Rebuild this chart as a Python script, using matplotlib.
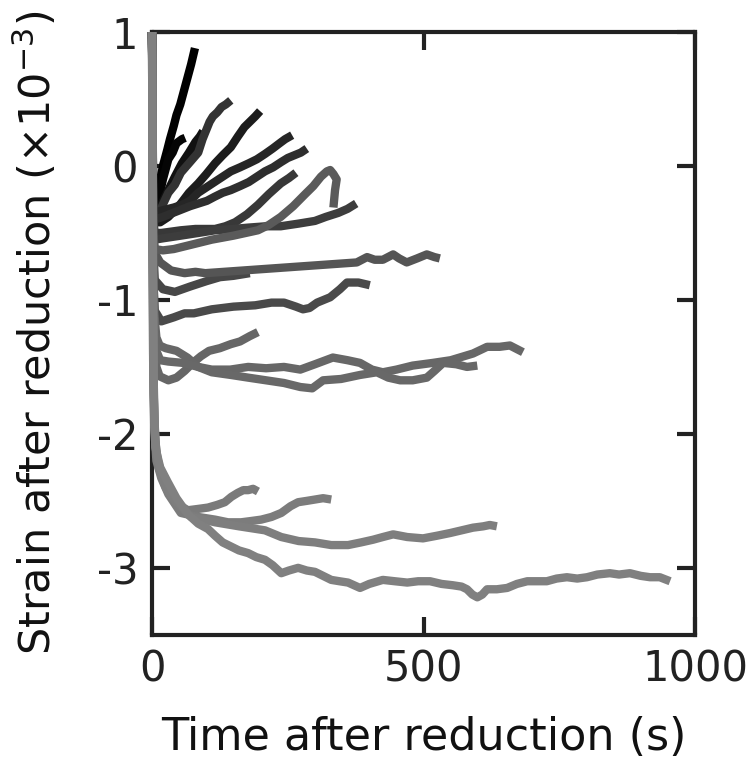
import matplotlib
matplotlib.use("Agg")
import matplotlib.pyplot as plt

plt.rcParams['font.family'] = ['DejaVu Sans']
plt.rcParams['axes.unicode_minus'] = False

# Each series: (time s, strain x1e-3)
k1 = [(0,1.0),(1,0.2),(2,-0.2),(4,-0.3),(10,-0.22),(20,0.0),(28,0.12),(33,0.2),(40,0.3),(45,0.38),(52,0.46),(58,0.55),(64,0.64),(72,0.76),(79,0.88)]
k1b = [(0,1.0),(2,-0.2),(4,-0.35),(12,-0.25),(20,-0.1),(30,0.05),(38,0.1),(45,0.17),(55,0.2),(61,0.21)]
k2 = [(0,1.0),(2,-0.3),(4,-0.4),(10,-0.38),(18,-0.28),(30,-0.18),(42,-0.08),(55,0.02),(68,0.1),(80,0.18),(88,0.22),(94,0.26)]
k3 = [(0,1.0),(2,-0.3),(4,-0.38),(15,-0.33),(30,-0.2),(42,-0.14),(53,-0.05),(68,0.02),(85,0.1),(93,0.2),(100,0.27),(106,0.33),(112,0.37),(120,0.4),(128,0.44),(136,0.46),(145,0.49)]
k4 = [(0,1.0),(2,-0.35),(4,-0.42),(15,-0.42),(30,-0.38),(42,-0.33),(53,-0.28),(68,-0.2),(85,-0.13),(100,-0.06),(116,0.02),(130,0.08),(145,0.14),(158,0.22),(170,0.29),(180,0.33),(190,0.37),(199,0.41)]
k5 = [(0,1.0),(2,-0.3),(4,-0.35),(20,-0.33),(40,-0.31),(55,-0.29),(70,-0.26),(85,-0.2),(100,-0.16),(115,-0.12),(130,-0.08),(145,-0.04),(162,-0.01),(178,0.02),(193,0.05),(208,0.09),(222,0.13),(235,0.17),(245,0.2),(258,0.23)]
k6 = [(0,1.0),(2,-0.35),(4,-0.4),(20,-0.38),(45,-0.34),(70,-0.3),(101,-0.26),(115,-0.23),(130,-0.2),(145,-0.18),(162,-0.15),(178,-0.12),(193,-0.08),(208,-0.04),(223,-0.01),(238,0.03),(250,0.06),(262,0.08),(274,0.1),(285,0.13)]
k7 = [(0,1.0),(2,-0.4),(5,-0.5),(17,-0.5),(35,-0.49),(53,-0.48),(80,-0.47),(116,-0.47),(135,-0.45),(153,-0.42),(175,-0.36),(195,-0.29),(215,-0.21),(237,-0.13),(252,-0.09),(265,-0.05)]
k9 = [(0,1.0),(2,-0.45),(5,-0.55),(20,-0.54),(53,-0.52),(85,-0.5),(116,-0.48),(150,-0.47),(177,-0.46),(210,-0.45),(237,-0.45),(270,-0.43),(300,-0.41),(320,-0.38),(343,-0.35),(360,-0.32),(376,-0.28)]
k12 = [(0,1.0),(2,-0.6),(5,-0.85),(20,-0.92),(42,-0.94),(70,-0.9),(100,-0.86),(125,-0.83),(150,-0.82),(180,-0.8)]
k11 = [(0,1.0),(2,-0.8),(5,-1.08),(17,-1.16),(40,-1.13),(60,-1.1),(77,-1.1),(110,-1.07),(150,-1.05),(190,-1.04),(220,-1.02),(243,-1.02),(265,-1.05),(278,-1.07),(290,-1.06),(304,-1.02),(328,-0.98),(346,-0.92),(359,-0.87),(380,-0.87),(401,-0.89)]
k10 = [(0,1.0),(2,-0.5),(5,-0.65),(15,-0.72),(35,-0.78),(60,-0.8),(80,-0.79),(98,-0.8),(377,-0.72),(396,-0.68),(410,-0.7),(425,-0.7),(444,-0.66),(455,-0.69),(469,-0.72),(488,-0.69),(506,-0.66),(520,-0.68),(530,-0.69)]
k8 = [(0,1.0),(2,-0.5),(5,-0.62),(20,-0.63),(40,-0.62),(60,-0.6),(80,-0.58),(110,-0.55),(150,-0.52),(195,-0.48),(215,-0.44),(237,-0.38),(260,-0.3),(282,-0.21),(297,-0.15),(311,-0.08),(322,-0.04),(328,-0.03),(334,-0.06),(340,-0.1),(337,-0.18),(334,-0.31)]
m1 = [(0,1.0),(2,-0.9),(4,-1.3),(8,-1.5),(14,-1.57),(30,-1.6),(45,-1.58),(60,-1.53),(75,-1.47),(90,-1.42),(105,-1.38),(125,-1.36),(145,-1.33),(162,-1.31),(180,-1.27),(195,-1.24)]
m2 = [(0,1.0),(2,-0.7),(4,-1.1),(8,-1.28),(14,-1.34),(25,-1.36),(45,-1.38),(65,-1.43),(85,-1.5),(110,-1.52),(144,-1.52),(177,-1.5),(210,-1.51),(243,-1.5),(273,-1.52),(300,-1.48),(333,-1.43),(360,-1.45),(383,-1.47),(405,-1.52),(425,-1.54),(450,-1.52),(480,-1.49),(517,-1.47),(550,-1.45),(591,-1.4),(617,-1.35),(640,-1.35),(659,-1.34),(683,-1.39)]
m3 = [(0,1.0),(2,-0.8),(4,-1.2),(8,-1.38),(15,-1.45),(30,-1.46),(57,-1.47),(85,-1.5),(110,-1.54),(145,-1.56),(177,-1.58),(210,-1.6),(243,-1.62),(273,-1.65),(295,-1.66),(315,-1.6),(348,-1.59),(383,-1.56),(414,-1.54),(435,-1.58),(457,-1.6),(480,-1.6),(506,-1.58),(520,-1.53),(536,-1.47),(560,-1.48),(580,-1.5),(599,-1.49)]
l1 = [(0,1.0),(1,-0.5),(2,-1.4),(4,-1.9),(8,-2.15),(17,-2.3),(30,-2.42),(45,-2.52),(66,-2.57),(85,-2.56),(103,-2.55),(120,-2.53),(134,-2.51),(146,-2.47),(158,-2.44),(168,-2.42),(177,-2.42),(186,-2.41),(195,-2.43)]
l2 = [(0,1.0),(1,-0.5),(2,-1.45),(4,-1.95),(8,-2.2),(17,-2.33),(30,-2.45),(53,-2.59),(85,-2.62),(116,-2.64),(140,-2.66),(164,-2.66),(183,-2.65),(201,-2.64),(220,-2.62),(238,-2.59),(255,-2.54),(269,-2.51),(285,-2.5),(300,-2.49),(315,-2.48),(330,-2.49)]
l3 = [(0,1.0),(1,-0.6),(3,-1.7),(6,-2.05),(12,-2.25),(25,-2.4),(42,-2.5),(72,-2.62),(95,-2.64),(116,-2.66),(160,-2.69),(208,-2.72),(238,-2.77),(270,-2.8),(300,-2.81),(330,-2.83),(361,-2.83),(385,-2.81),(407,-2.79),(425,-2.77),(444,-2.75),(470,-2.77),(499,-2.78),(525,-2.76),(549,-2.74),(570,-2.72),(591,-2.7),(610,-2.69),(622,-2.68),(635,-2.69)]
l4 = [(0,1.0),(1,-0.4),(3,-1.6),(6,-2.1),(15,-2.25),(29,-2.36),(45,-2.48),(66,-2.6),(85,-2.67),(103,-2.71),(116,-2.76),(130,-2.81),(145,-2.84),(160,-2.87),(177,-2.89),(192,-2.92),(208,-2.94),(222,-2.98),(238,-3.04),(252,-3.02),(269,-3.0),(285,-3.02),(300,-3.03),(315,-3.06),(330,-3.09),(345,-3.1),(361,-3.11),(383,-3.15),(400,-3.12),(425,-3.09),(447,-3.1),(470,-3.11),(490,-3.1),(512,-3.1),(533,-3.12),(554,-3.13),(570,-3.14),(580,-3.16),(590,-3.2),(599,-3.22),(608,-3.2),(617,-3.16),(635,-3.16),(654,-3.15),(672,-3.12),(691,-3.1),(710,-3.1),(727,-3.1),(745,-3.08),(764,-3.07),(783,-3.08),(801,-3.07),(820,-3.05),(843,-3.04),(860,-3.05),(880,-3.04),(900,-3.06),(917,-3.07),(935,-3.07),(954,-3.1)]

series = [k1, k1b, k2, k4, k3, k5, k6, k7, k9, k12, k11, k10, k8, m1, m2, m3, l1, l2, l3, l4]
grays = ['#000000', '#050505', '#111111', '#1c1c1c', '#333333', '#262626', '#2e2e2e', '#383838',
         '#3d3d3d', '#474747', '#4a4a4a', '#555555', '#5a5a5a', '#666666', '#676767', '#686868',
         '#7a7a7a', '#7c7c7c', '#7e7e7e', '#808080']

xticks = [0, 500, 1000]
yticks = [1, 0, -1, -2, -3]

fig = plt.figure(figsize=(7.49, 7.63), dpi=100)
ax = fig.add_axes([0.203, 0.168, 0.725, 0.79])

for s, c in zip(series, grays):
    xs = [p[0] for p in s]
    ys = [p[1] for p in s]
    ax.plot(xs, ys, color=c, lw=6.0, solid_capstyle='butt', solid_joinstyle='round',
            clip_on=False, zorder=3)

ax.set_xlim(0, 1000)
ax.set_ylim(-3.5, 1)
ax.set_xticks(xticks)
ax.set_xticklabels([str(v) for v in xticks])
ax.set_yticks(yticks)
ax.set_yticklabels([str(v) for v in yticks])

for sp in ax.spines.values():
    sp.set_linewidth(3)
    sp.set_color('#222222')
    sp.set_zorder(2)
ax.tick_params(direction='in', length=13, width=3, color='#222222', labelsize=30,
               labelcolor='#222222', top=True, right=True, pad=10)

ax.set_xlabel('Time after reduction (s)', fontsize=32, color='#111111', labelpad=18)
ax.set_ylabel('Strain after reduction (×10$^{\\mathregular{-3}}$)', fontsize=31,
              color='#111111', labelpad=26)

fig.savefig('out.png', dpi=100)
